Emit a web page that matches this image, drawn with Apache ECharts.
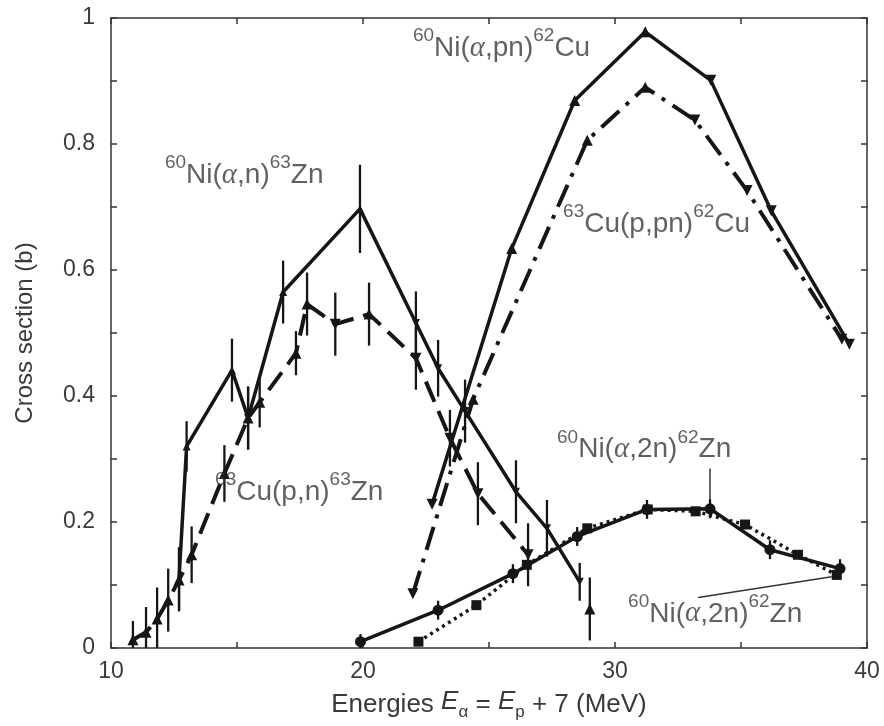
<!DOCTYPE html>
<html lang="en">
<head>
    <meta charset="UTF-8">
    <title>Cross sections</title>
    <script src="https://cdn.jsdelivr.net/npm/echarts@6/dist/echarts.min.js"></script>
</head>
<body style="margin:0;background:#fff;">
    <div id="main" style="width: 884px;height:726px;"></div>
    <script type="text/javascript">
        // 60Ni(a,n)63Zn  (solid)
        const niAnX = [12.7, 13.0, 14.8, 15.44, 16.83, 19.88, 22.1, 22.98, 24.05, 26.07, 27.3, 28.6];
        const niAnY = [0.11, 0.32, 0.441, 0.365, 0.565, 0.697, 0.516, 0.444, 0.376, 0.248, 0.19, 0.105];
        const niAnErr = [0.05, 0.04, 0.05, 0.05, 0.05, 0.07, 0.05, 0.045, 0.05, 0.05, 0.045, 0.03];

        // 63Cu(p,n)63Zn  (dashed), '-' = gap in the line
        const cuPnX = [10.87, 11.39, 11.83, 12.27, 12.7, 13.2, 14.5, 15.44, 15.9, 17.34, 17.78, 18.9, 20.24, 22.1, 23.45, 24.56, 26.55, 27.8, 29.0];
        const cuPnY = [0.013, 0.025, 0.046, 0.076, 0.108, 0.148, 0.277, 0.365, 0.39, 0.468, 0.546, 0.514, 0.53, 0.46, 0.333, 0.245, 0.148, '-', 0.062];
        const cuPnErr = [0.03, 0.04, 0.05, 0.05, 0.05, 0.045, 0.045, 0.05, 0.04, 0.035, 0.05, 0.05, 0.05, 0.05, 0.045, 0.05, 0.05, 0, 0.05];

        // 60Ni(a,pn)62Cu  (solid)
        const niApnX = [22.74, 25.9, 28.4, 31.2, 33.8, 36.2, 39.3];
        const niApnY = [0.228, 0.634, 0.869, 0.978, 0.901, 0.694, 0.482];

        // 63Cu(p,pn)62Cu  (dash-dot)
        const cuPpnX = [21.98, 24.37, 28.9, 31.2, 33.17, 35.24, 39.0];
        const cuPpnY = [0.086, 0.395, 0.806, 0.89, 0.838, 0.726, 0.49];

        // 60Ni(a,2n)62Zn  (solid, circles)
        const niA2nX = [19.9, 22.98, 25.95, 28.5, 31.27, 33.77, 36.15, 38.93];
        const niA2nY = [0.01, 0.06, 0.118, 0.177, 0.22, 0.221, 0.156, 0.126];
        const niA2nErr = [0.012, 0.015, 0.015, 0.015, 0.015, 0.015, 0.015, 0.015];

        // 60Ni(a,2n)62Zn  (dotted, squares)
        const niA2nBX = [22.2, 24.5, 26.5, 28.9, 31.3, 33.2, 35.16, 37.26, 38.8];
        const niA2nBY = [0.01, 0.068, 0.132, 0.19, 0.22, 0.217, 0.196, 0.148, 0.116];

        const xTicks = [10, 20, 30, 40];
        const yTicks = [0, 0.2, 0.4, 0.6, 0.8, 1];

        // annotation texts and their anchors (data coordinates, left / middle of text)
        const labelTexts = [
            '{s|60}{t|Ni(}{a|α}{t|,pn)}{s|62}{t|Cu}',
            '{s|60}{t|Ni(}{a|α}{t|,n)}{s|63}{t|Zn}',
            '{s|63}{t|Cu(p,pn)}{s|62}{t|Cu}',
            '{s|63}{t|Cu(p,n)}{s|63}{t|Zn}',
            '{s|60}{t|Ni(}{a|α}{t|,2n)}{s|62}{t|Zn}',
            '{s|60}{t|Ni(}{a|α}{t|,2n)}{s|62}{t|Zn}'
        ];
        const labelAnchors = [[21.98, 0.958], [12.14, 0.756], [27.94, 0.679], [14.13, 0.253], [27.7, 0.321], [30.52, 0.060]];
        const leaderLines = [[[33.77, 0.285], [33.77, 0.226]], [[33.3, 0.08], [38.6, 0.113]]];

        const ink = '#161616';
        const textColor = '#3a3a3a';
        const font = 'Liberation Sans';

        // triangles point the way the curve travels into them; firstDown flips the first one
        function pointData(xs, ys, firstDown) {
            return xs.map((x, i) => {
                let rot = 0;
                const prev = ys[i - 1], cur = ys[i];
                if (i === 0) {
                    rot = firstDown ? 180 : 0;
                } else if (typeof prev === 'number' && typeof cur === 'number') {
                    rot = prev > cur ? 180 : 0;
                } else if (typeof cur === 'number' && typeof ys[i + 1] === 'number') {
                    rot = ys[i + 1] < cur ? 180 : 0;
                }
                return { value: [x, cur], symbolRotate: rot };
            });
        }

        function errorBars(xs, ys, errs) {
            const data = [];
            xs.forEach((x, i) => {
                if (ys[i] === '-' || !errs[i]) return;
                data.push([x, Math.max(0, ys[i] - errs[i]), ys[i] + errs[i]]);
            });
            return {
                type: 'custom',
                silent: true,
                z: 3,
                encode: { x: 0, y: [1, 2] },
                data: data,
                renderItem: function (params, api) {
                    const a = api.coord([api.value(0), api.value(1)]);
                    const b = api.coord([api.value(0), api.value(2)]);
                    return {
                        type: 'line',
                        shape: { x1: a[0], y1: a[1], x2: b[0], y2: b[1] },
                        style: { stroke: ink, lineWidth: 2.3 }
                    };
                }
            };
        }

        function lineSeries(xs, ys, dash, symbol, size, width, firstDown) {
            return {
                type: 'line',
                data: pointData(xs, ys, firstDown),
                connectNulls: false,
                symbol: symbol,
                symbolSize: size,
                itemStyle: { color: ink },
                lineStyle: { color: ink, width: width, type: dash },
                z: 4
            };
        }

        const rich = {
            s: { fontSize: 19, fontFamily: font, color: textColor, verticalAlign: 'top', lineHeight: 19 },
            t: { fontSize: 28, fontFamily: font, color: textColor, verticalAlign: 'bottom', lineHeight: 36 },
            a: { fontSize: 29, fontFamily: 'Liberation Serif', fontStyle: 'italic', color: textColor, verticalAlign: 'bottom', lineHeight: 36 }
        };

        const axisCommon = {
            type: 'value',
            axisLine: { show: true, onZero: false, lineStyle: { color: '#333', width: 1.5 } },
            axisTick: { show: true, inside: true, length: 6, lineStyle: { color: '#333', width: 1.5 } },
            splitLine: { show: false }
        };

        var myChart = echarts.init(document.getElementById('main'));
        var option = {
            animation: false,
            backgroundColor: '#fff',
            grid: { left: 111, right: 17, top: 18, bottom: 78 },
            xAxis: [
                Object.assign({}, axisCommon, {
                    min: 10, max: 40, interval: 5,
                    name: 'Energies {i|E}{sb|α} = {i|E}{sb|p} + 7 (MeV)',
                    nameLocation: 'middle', nameGap: 41,
                    nameTextStyle: {
                        color: textColor, fontFamily: font, fontSize: 26,
                        rich: {
                            i: { fontSize: 26, fontFamily: font, fontStyle: 'italic', color: textColor, verticalAlign: 'top', lineHeight: 32 },
                            sb: { fontSize: 17, fontFamily: font, color: textColor, verticalAlign: 'bottom', lineHeight: 16 }
                        }
                    },
                    axisLabel: {
                        color: textColor, fontFamily: font, fontSize: 23, margin: 12,
                        formatter: v => xTicks.includes(v) ? String(v) : ''
                    }
                }),
                Object.assign({}, axisCommon, {
                    position: 'top', min: 10, max: 40, interval: 5,
                    axisLabel: { show: false }
                })
            ],
            yAxis: [
                Object.assign({}, axisCommon, {
                    min: 0, max: 1, interval: 0.1,
                    name: 'Cross section (b)',
                    nameLocation: 'middle', nameGap: 74,
                    nameTextStyle: { color: textColor, fontFamily: font, fontSize: 24 },
                    axisLabel: {
                        color: textColor, fontFamily: font, fontSize: 23, margin: 16,
                        formatter: v => {
                            const r = Math.round(v * 10) / 10;
                            return yTicks.includes(r) ? String(r) : '';
                        }
                    }
                }),
                Object.assign({}, axisCommon, {
                    position: 'right', min: 0, max: 1, interval: 0.1,
                    axisLabel: { show: false }
                })
            ],
            series: [
                lineSeries(niAnX, niAnY, 'solid', 'triangle', 8, 3.5, false),
                errorBars(niAnX, niAnY, niAnErr),
                lineSeries(cuPnX, cuPnY, [22, 10], 'triangle', 11, 4, false),
                errorBars(cuPnX, cuPnY, cuPnErr),
                lineSeries(niApnX, niApnY, 'solid', 'triangle', 11, 3.5, true),
                lineSeries(cuPpnX, cuPpnY, [24, 9, 4, 9], 'triangle', 11, 4, true),
                lineSeries(niA2nBX, niA2nBY, [3, 4], 'rect', 10, 3.5, false),
                lineSeries(niA2nX, niA2nY, 'solid', 'circle', 11, 3.5, false),
                errorBars(niA2nX, niA2nY, niA2nErr),
                ...leaderLines.map(seg => ({
                    type: 'line', data: seg, symbol: 'none', silent: true,
                    lineStyle: { color: '#333', width: 1.5 }, z: 2
                })),
                {
                    type: 'scatter',
                    silent: true,
                    symbolSize: 0,
                    z: 6,
                    data: labelAnchors.map((p, i) => ({
                        value: p,
                        label: { formatter: labelTexts[i] }
                    })),
                    label: { show: true, position: 'right', distance: 0, rich: rich }
                }
            ]
        };
        myChart.setOption(option);
    </script>
</body>
</html>
